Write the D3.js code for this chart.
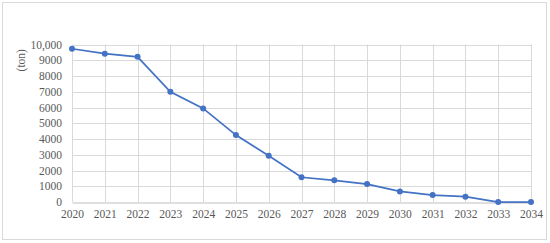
<!DOCTYPE html>
<html>
<head>
<meta charset="utf-8">
<script src="https://cdn.jsdelivr.net/npm/d3@7"></script>
<style>
  body { margin: 0; background: #fff; }
  svg { display: block; }
</style>
</head>
<body>
<script>
const width = 550;
const height = 243;

const years = [2020, 2021, 2022, 2023, 2024, 2025, 2026, 2027, 2028, 2029, 2030, 2031, 2032, 2033, 2034];
const tons = [9730, 9420, 9220, 7000, 5940, 4250, 2940, 1570, 1380, 1140, 670, 440, 340, 0, 0];
const yTicks = [0, 1000, 2000, 3000, 4000, 5000, 6000, 7000, 8000, 9000, 10000];

const font = '"Liberation Serif", "DejaVu Serif", serif';
const margin = { top: 44.5, right: 19, bottom: 41, left: 72 };

const svg = d3.select('body')
  .append('svg')
  .attr('width', width)
  .attr('height', height);

// chart area border
svg.append('rect')
  .attr('x', 2.5)
  .attr('y', 2.5)
  .attr('width', width - 6)
  .attr('height', height - 6)
  .attr('fill', 'none')
  .attr('stroke', '#d9d9d9');

const x = d3.scalePoint()
  .domain(years)
  .range([margin.left, width - margin.right]);

const y = d3.scaleLinear()
  .domain([0, 10000])
  .range([height - margin.bottom, margin.top]);

// horizontal gridlines
svg.append('g')
  .selectAll('line')
  .data(yTicks.slice(1))
  .enter()
  .append('line')
  .attr('x1', x(years[0]))
  .attr('x2', x(years[years.length - 1]))
  .attr('y1', d => Math.round(y(d)) + 0.5)
  .attr('y2', d => Math.round(y(d)) + 0.5)
  .attr('stroke', '#d9d9d9');

// vertical gridlines
svg.append('g')
  .selectAll('line')
  .data(years)
  .enter()
  .append('line')
  .attr('x1', d => Math.round(x(d)) + 0.5)
  .attr('x2', d => Math.round(x(d)) + 0.5)
  .attr('y1', y(10000))
  .attr('y2', y(0))
  .attr('stroke', '#d9d9d9');

// x axis
const xAxis = svg.append('g')
  .attr('transform', `translate(0,${Math.round(y(0)) + 0.5})`)
  .call(d3.axisBottom(x).tickSize(0).tickPadding(7));
xAxis.attr('font-family', font).attr('font-size', 11.5);
xAxis.select('.domain').attr('stroke', '#bfbfbf');
xAxis.selectAll('text').attr('fill', '#595959');

// y axis
const yAxis = svg.append('g')
  .attr('transform', `translate(${margin.left - 10},0)`)
  .call(d3.axisLeft(y).tickValues(yTicks).tickSize(0).tickPadding(0)
    .tickFormat(d => d === 10000 ? '10,000' : d3.format('d')(d)));
yAxis.attr('font-family', font).attr('font-size', 11.5);
yAxis.select('.domain').remove();
yAxis.selectAll('text').attr('fill', '#595959');

svg.append('text')
  .attr('transform', `translate(25,${y(9000)}) rotate(-90)`)
  .attr('text-anchor', 'middle')
  .attr('font-family', font)
  .attr('font-size', 11.5)
  .attr('fill', '#595959')
  .text('(ton)');

const line = d3.line()
  .x((d, i) => x(years[i]))
  .y(d => y(d));

svg.append('path')
  .datum(tons)
  .attr('d', line)
  .attr('fill', 'none')
  .attr('stroke', '#4472c4')
  .attr('stroke-width', 1.75);

svg.append('g')
  .selectAll('circle')
  .data(tons)
  .enter()
  .append('circle')
  .attr('cx', (d, i) => x(years[i]))
  .attr('cy', d => y(d))
  .attr('r', 3)
  .attr('fill', '#4472c4');
</script>
</body>
</html>
